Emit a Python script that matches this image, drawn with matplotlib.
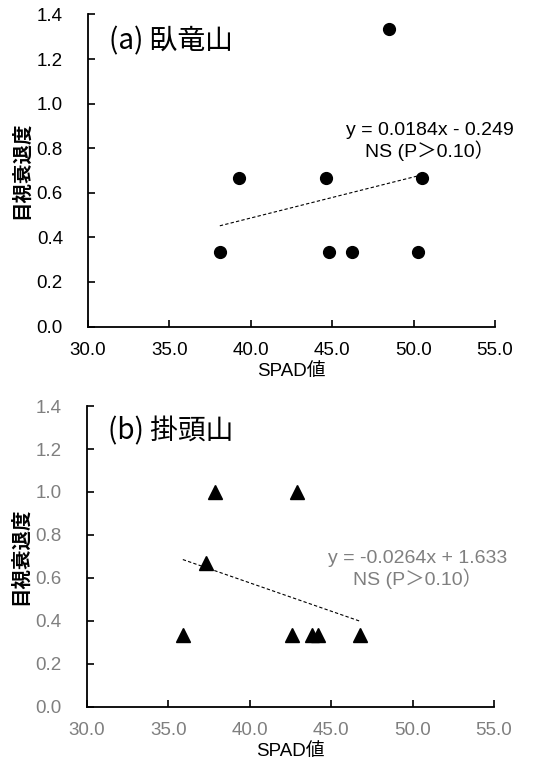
import matplotlib

matplotlib.use("Agg")
import matplotlib.pyplot as plt
import numpy as np

# (a) 臥竜山
spad_a = [39.3, 44.6, 50.5, 48.5, 38.1, 44.8, 46.2, 50.3]
decline_a = [0.667, 0.667, 0.667, 1.333, 0.333, 0.333, 0.333, 0.333]
slope_a, icpt_a = 0.0184, -0.249

# (b) 掛頭山
spad_b = [35.9, 37.3, 37.9, 42.9, 42.6, 43.8, 44.2, 46.8]
decline_b = [0.333, 0.667, 1.0, 1.0, 0.333, 0.333, 0.333, 0.333]
slope_b, icpt_b = -0.0264, 1.633

XTICKS = [30, 35, 40, 45, 50, 55]
YTICKS = [0.0, 0.2, 0.4, 0.6, 0.8, 1.0, 1.2, 1.4]

LATIN = ["Liberation Sans", "Noto Sans CJK JP"]
CJK = ["Noto Sans CJK JP", "Liberation Sans"]
GRAY = "#7f7f7f"


def panel(ax, xs, ys, slope, icpt, marker, msize, label, eq, eq_xy, tick_color):
    ax.plot(xs, ys, linestyle="none", marker=marker, markersize=msize,
            color="black", zorder=3)
    fx = np.array([min(xs), max(xs)])
    ax.plot(fx, slope * fx + icpt, color="black", lw=0.8,
            linestyle=(0, (3, 2)), zorder=2)
    ax.set_xlim(30, 55)
    ax.set_ylim(0, 1.4)
    ax.set_xticks(XTICKS)
    ax.set_yticks(YTICKS)
    ax.set_xticklabels([f"{v:.1f}" for v in XTICKS], family=LATIN)
    ax.set_yticklabels([f"{v:.1f}" for v in YTICKS], family=LATIN)
    for s in ("top", "right"):
        ax.spines[s].set_visible(False)
    for s in ("left", "bottom"):
        ax.spines[s].set_linewidth(1.3)
    ax.tick_params(direction="in", length=5, width=1.2, labelsize=13.5,
                   labelcolor=tick_color)
    ax.tick_params(axis="y", pad=18)
    ax.tick_params(axis="x", pad=11)
    ax.set_xlabel("SPAD値", family=LATIN, fontsize=13.5, labelpad=3)
    ax.set_ylabel("目視衰退度", family=CJK, fontsize=14, fontweight="bold",
                  labelpad=4)
    ax.text(31.3, 1.28, label, family=CJK, fontsize=20, ha="left",
            va="center")
    ax.text(eq_xy[0], eq_xy[1], eq, family=LATIN, fontsize=14, ha="center",
            va="center", color=tick_color, linespacing=1.1)


fig = plt.figure(figsize=(5.43, 7.63), dpi=100)
ax_a = fig.add_axes([0.162, 0.572, 0.7495, 0.409])
ax_b = fig.add_axes([0.1597, 0.0738, 0.750, 0.394])

panel(ax_a, spad_a, decline_a, slope_a, icpt_a, "o", 8.5, "(a) 臥竜山",
      "y = 0.0184x - 0.249\nNS (P＞0.10）", (51.0, 0.83), "black")
panel(ax_b, spad_b, decline_b, slope_b, icpt_b, "^", 9.5, "(b) 掛頭山",
      "y = -0.0264x + 1.633\nNS (P＞0.10）", (50.3, 0.64), GRAY)

fig.savefig("out.png", dpi=100)
